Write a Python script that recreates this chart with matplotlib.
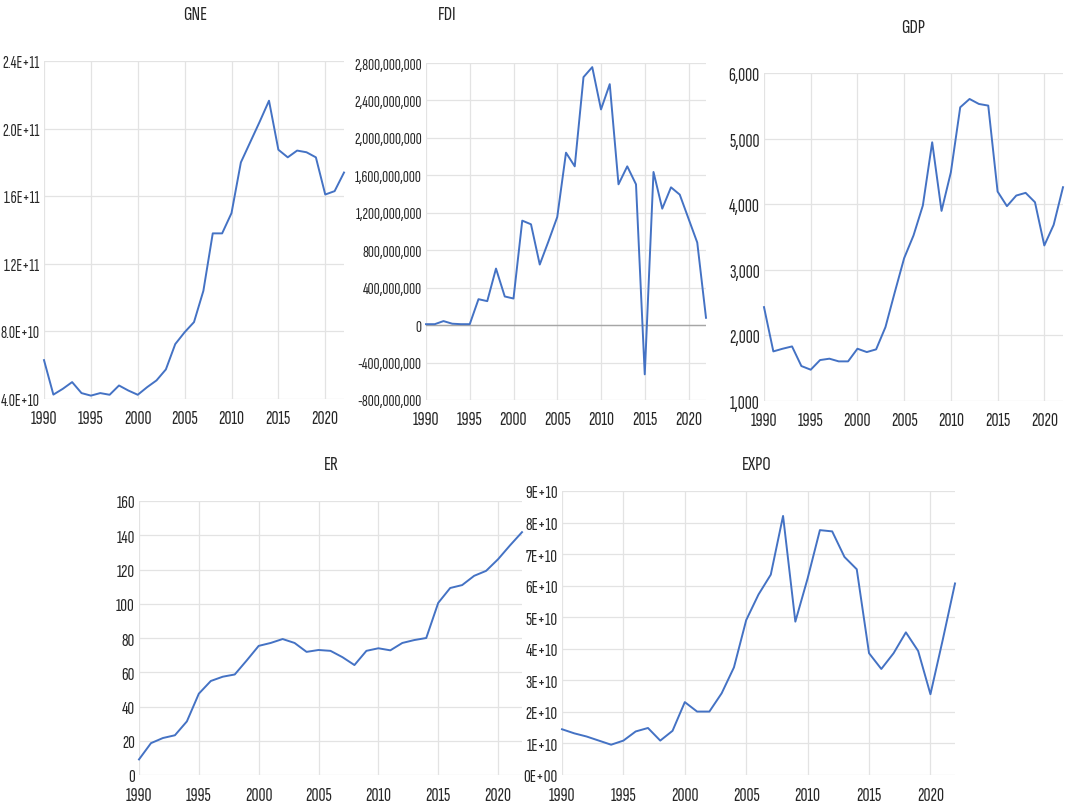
import matplotlib
matplotlib.use("Agg")
import matplotlib.pyplot as plt
from matplotlib.ticker import FuncFormatter

# narrow font, close to the squeezed Calibri of the original
plt.rcParams["font.family"] = ["Sofia Sans Extra Condensed", "Fira Sans Extra Condensed", "DejaVu Sans"]

years = list(range(1990, 2023))

gne = [6.3e10, 4.26e10, 4.6e10, 5.0e10, 4.35e10, 4.2e10, 4.35e10, 4.25e10, 4.8e10, 4.5e10,
       4.25e10, 4.7e10, 5.1e10, 5.75e10, 7.25e10, 7.95e10, 8.55e10, 1.04e11, 1.38e11, 1.38e11,
       1.5e11, 1.8e11, 1.92e11, 2.04e11, 2.165e11, 1.875e11, 1.83e11, 1.87e11, 1.86e11, 1.83e11,
       1.61e11, 1.63e11, 1.74e11]

fdi = [10e6, 10e6, 43e6, 15e6, 10e6, 10e6, 277e6, 256e6, 604e6, 306e6,
       284e6, 1116e6, 1077e6, 647e6, 896e6, 1155e6, 1842e6, 1696e6, 2649e6, 2756e6,
       2304e6, 2574e6, 1504e6, 1696e6, 1504e6, -526e6, 1636e6, 1244e6, 1472e6, 1394e6,
       1138e6, 882e6, 78e6]

gdp = [2431, 1756, 1797, 1832, 1533, 1477, 1624, 1645, 1604, 1604,
       1797, 1746, 1787, 2127, 2660, 3178, 3523, 3980, 4944, 3898,
       4487, 5477, 5604, 5528, 5503, 4193, 3970, 4132, 4173, 4030,
       3371, 3685, 4259]

er = [9.1, 18.6, 21.6, 23.2, 31.3, 47.5, 54.9, 57.4, 58.7, 66.9,
      75.4, 77.1, 79.4, 77.1, 71.9, 73.0, 72.5, 68.8, 64.2, 72.5,
      74.0, 72.8, 77.1, 78.8, 80.0, 100.5, 109.2, 110.9, 116.3, 119.2,
      126.0, 134.1, 141.8]

expo = [1.45e10, 1.32e10, 1.22e10, 1.09e10, 0.96e10, 1.09e10, 1.38e10, 1.49e10, 1.09e10, 1.40e10,
        2.31e10, 2.01e10, 2.01e10, 2.59e10, 3.41e10, 4.91e10, 5.72e10, 6.35e10, 8.21e10, 4.86e10,
        6.23e10, 7.76e10, 7.72e10, 6.91e10, 6.52e10, 3.86e10, 3.36e10, 3.86e10, 4.52e10, 3.93e10,
        2.56e10, 4.28e10, 6.07e10]

W, H = 1069, 804
fig = plt.figure(figsize=(W / 100, H / 100), dpi=100)
fig.patch.set_facecolor("white")

LINE = "#4472C4"
GRID = "#E3E3E3"
TXT = "#262626"


def panel(box, title, title_xy, values, ylim, ystep, fmt, ysize=14, xpad=7, zero_line=False):
    l, t, r, b = box
    ax = fig.add_axes([l / W, 1 - b / H, (r - l) / W, (b - t) / H])
    ax.plot(years, values, color=LINE, lw=1.4, zorder=3, clip_on=False)
    ax.set_xlim(1990, 2022)
    ax.set_ylim(*ylim)
    yt = []
    v = ylim[0]
    while v <= ylim[1] + ystep * 0.01:
        yt.append(v)
        v += ystep
    ax.set_yticks(yt)
    ax.set_xticks(range(1990, 2021, 5))
    ax.yaxis.set_major_formatter(FuncFormatter(lambda x, p: fmt(x)))
    ax.grid(True, color=GRID, lw=0.9, zorder=0)
    for s in ax.spines.values():
        s.set_visible(False)
    ax.tick_params(axis="both", length=0, colors=TXT)
    ax.tick_params(axis="x", pad=xpad, labelsize=14)
    ax.tick_params(axis="y", pad=3, labelsize=ysize)
    if zero_line:
        ax.axhline(0, color="#A6A6A6", lw=1.0, zorder=2)
    fig.text(title_xy[0] / W, 1 - title_xy[1] / H, title, ha="center", va="center",
             fontsize=15, color=TXT)
    return ax


panel((44, 62, 344, 400), "GNE", (195, 15), gne, (4e10, 2.4e11), 4e10,
      lambda x: f"{x:.1E}", ysize=12.5)
panel((426, 64, 706, 401), "FDI", (447, 15), fdi, (-8e8, 2.8e9), 4e8,
      lambda x: f"{x:,.0f}", ysize=12, zero_line=True)
panel((764, 74, 1063, 402), "GDP", (913, 28), gdp, (1000, 6000), 1000,
      lambda x: f"{x:,.0f}")
panel((139, 502, 522, 776), "ER", (331, 465), er, (0, 160), 20,
      lambda x: f"{x:.0f}", ysize=13.5, xpad=8)
panel((562, 492, 955, 776), "EXPO", (757, 465), expo, (0, 9e10), 1e10,
      lambda x: f"{x:.0E}", ysize=13.5, xpad=8)

fig.savefig("out.png", dpi=100)
